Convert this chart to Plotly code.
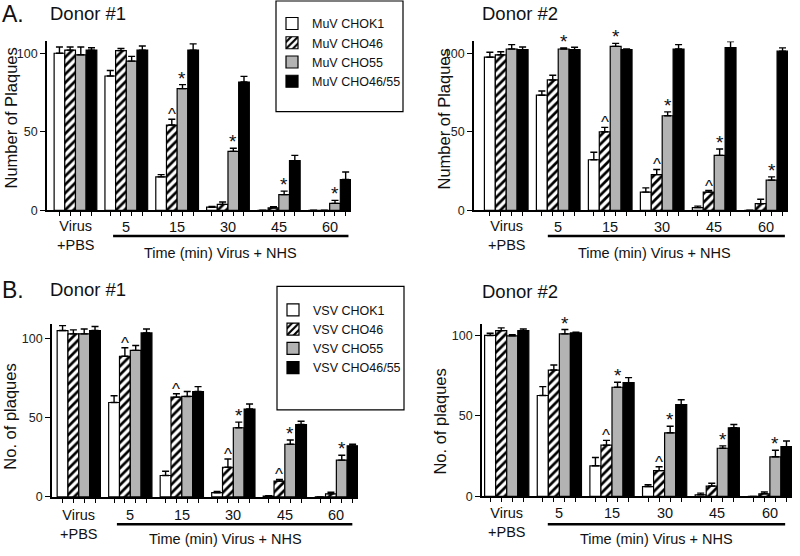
import plotly.graph_objects as go

# ---------------------------------------------------------------------------
# Data
# ---------------------------------------------------------------------------
GROUP_LABELS = ["Virus<br>+PBS", "5", "15", "30", "45", "60"]
CELL_LINES = ["CHOK1", "CHO46", "CHO55", "CHO46/55"]

# rows = CHOK1, CHO46, CHO55, CHO46/55 ; columns = PBS, 5, 15, 30, 45, 60 min
MUV_D1_MEAN = [
    [100, 85.5, 21.3, 2.0, 0, 0],
    [102, 101.7, 54.3, 3.8, 1.5, 0],
    [99, 95, 77.5, 37.5, 10, 4.4],
    [102, 102, 102, 81.7, 31.6, 19.6],
]
MUV_D1_SEM = [
    [4, 3.5, 1.4, 0.5, 0, 0],
    [2, 1.3, 3.7, 1.5, 0.8, 0],
    [5, 3, 2.5, 2, 2.2, 1.9],
    [1.5, 2.6, 4, 3.6, 3.4, 4.8],
]
MUV_D2_MEAN = [
    [97.5, 73.3, 32.2, 11.6, 1.7, 0],
    [99, 83, 50, 22.7, 11.6, 4.2],
    [102.7, 102.7, 104.4, 60.2, 35, 19.2],
    [102.3, 102.3, 102.3, 102.7, 103.6, 101.3],
]
MUV_D2_SEM = [
    [3.1, 2.7, 4.8, 2.7, 1.0, 0],
    [2, 3, 2.8, 3.3, 1.0, 2.8],
    [2.8, 0.7, 1.9, 2.5, 4, 2.1],
    [1.7, 1.5, 0.4, 2.8, 3.8, 2.1],
]
VSV_D1_MEAN = [
    [104.8, 59.5, 13.5, 2.7, 0.6, 0],
    [102.7, 88.6, 62.9, 18.7, 10, 2],
    [102.7, 92.3, 63.3, 43.6, 33.2, 23.2],
    [104.8, 103.3, 66.4, 55.4, 45.6, 32.2],
]
VSV_D1_SEM = [
    [3.1, 4.2, 2.7, 0.8, 0.2, 0],
    [2.5, 5.4, 2.1, 5.2, 1, 1],
    [3.1, 3.1, 3.1, 3.5, 2.7, 3.1],
    [2.5, 2.5, 3.1, 3.1, 2.1, 1],
]
VSV_D2_MEAN = [
    [100, 62.7, 19, 6.1, 1, 0],
    [103, 78.5, 31.8, 16, 6.4, 1.6],
    [99.8, 101, 67.8, 39.5, 29.9, 24.6],
    [103, 101.6, 70.7, 57, 42.6, 30.9],
]
VSV_D2_SEM = [
    [1.4, 5.5, 5.2, 1.1, 1, 0],
    [1.7, 3.1, 3, 2.4, 1.8, 1.1],
    [0.6, 2.7, 3.1, 4.1, 1.5, 4.1],
    [1, 0.4, 3.1, 3, 2.1, 3.5],
]

# significance marks: (group index, cell line index, symbol)
MUV_D1_SIG = [(2, 1, "^"), (2, 2, "*"), (3, 2, "*"), (4, 2, "*"), (5, 2, "*")]
MUV_D2_SIG = [(1, 2, "*"), (2, 1, "^"), (2, 2, "*"), (3, 1, "^"), (3, 2, "*"),
              (4, 1, "^"), (4, 2, "*"), (5, 2, "*")]
VSV_D1_SIG = [(1, 1, "^"), (2, 1, "^"), (3, 1, "^"), (3, 2, "*"), (4, 1, "^"),
              (4, 2, "*"), (5, 2, "*")]
VSV_D2_SIG = [(1, 2, "*"), (2, 1, "^"), (2, 2, "*"), (3, 1, "^"), (3, 2, "*"),
              (4, 2, "*"), (5, 2, "*")]

# ---------------------------------------------------------------------------
# Styling
# ---------------------------------------------------------------------------
FONT = "Liberation Sans, Arial, sans-serif"
W, H = 800, 556
BARGAP = 0.16
BAR_W = (1 - BARGAP) / 4

STYLES = [
    dict(color="white"),
    dict(color="white", pattern=dict(shape="/", fgcolor="black", bgcolor="white",
                                     size=6, solidity=0.45, fillmode="replace")),
    dict(color="#b3b3b3"),
    dict(color="black"),
]


def px_x(p):
    return p / W


def px_y(p):
    return 1 - p / H


# panel definitions: pixel domains measured on the reference
PANELS = [
    dict(virus="MuV", mean=MUV_D1_MEAN, sem=MUV_D1_SEM, sig=MUV_D1_SIG,
         xdom=(47, 351), xr=(-0.56, 5.42), ydom=(213, 42), ymax=107.5,
         title="Donor #1", title_x=48, title_y=14,
         ytitle="Number of Plaques", ytx=11, yty=120,
         lab_y=230, line_y=239, time_y=256, br=(0.74, 5.37), legend="legend"),
    dict(virus="MuV", mean=MUV_D2_MEAN, sem=MUV_D2_SEM, sig=MUV_D2_SIG,
         xdom=(474, 788), xr=(-0.62, 5.42), ydom=(213, 42), ymax=107.5,
         title="Donor #2", title_x=480, title_y=14,
         ytitle="Number of Plaques", ytx=444, yty=121,
         lab_y=230, line_y=239, time_y=256, br=(0.80, 5.36), legend=None),
    dict(virus="VSV", mean=VSV_D1_MEAN, sem=VSV_D1_SEM, sig=VSV_D1_SIG,
         xdom=(52, 358), xr=(-0.52, 5.42), ydom=(503.3, 328), ymax=109,
         title="Donor #1", title_x=48, title_y=293,
         ytitle="No. of plaques", ytx=10, yty=422,
         lab_y=522, line_y=531, time_y=546, br=(0.74, 5.31), legend="legend2"),
    dict(virus="VSV", mean=VSV_D2_MEAN, sem=VSV_D2_SEM, sig=VSV_D2_SIG,
         xdom=(482, 792), xr=(-0.47, 5.42), ydom=(502.7, 328), ymax=107.2,
         title="Donor #2", title_x=480, title_y=295,
         ytitle="No. of plaques", ytx=440, yty=427,
         lab_y=520, line_y=531, time_y=546, br=(0.78, 5.29), legend=None),
]

# legend frames (pixel boxes: x0, y0, x1, y1)
LEGEND_BOXES = [(276, 1, 403, 113), (277, 290, 404, 415)]

fig = go.Figure()
annotations = []
shapes = []
groups = list(range(len(GROUP_LABELS)))
bar_centers = [g + (k - 1.5) * BAR_W for g in groups for k in range(4)]


def text(x, y, s, size, xref="paper", yref="paper", xanchor="center",
         yanchor="middle", **kw):
    return dict(x=x, y=y, xref=xref, yref=yref, text=s, showarrow=False,
                xanchor=xanchor, yanchor=yanchor, font=dict(size=size), **kw)


for i, p in enumerate(PANELS):
    n = "" if i == 0 else str(i + 1)
    xa, ya = "x" + n, "y" + n
    for k, cell in enumerate(CELL_LINES):
        st = STYLES[k]
        fig.add_trace(go.Bar(
            x=groups, y=p["mean"][k], name=f'{p["virus"]} {cell}',
            xaxis=xa, yaxis=ya,
            marker=dict(line=dict(color="black", width=1.2), **st),
            error_y=dict(type="data", array=p["sem"][k], symmetric=False,
                         arrayminus=[0] * len(groups), color="black",
                         thickness=1.4, width=3.5),
            showlegend=p["legend"] is not None,
            legend=p["legend"] or "legend",
            legendgroup=f'{p["virus"]}{k}',
        ))

    fig.update_layout(**{
        "xaxis" + n: dict(domain=[px_x(p["xdom"][0]), px_x(p["xdom"][1])],
                          range=list(p["xr"]), anchor=ya, showline=True,
                          linecolor="black", linewidth=1.6, ticks="outside",
                          tickvals=bar_centers, ticklen=4, tickwidth=1.2,
                          tickcolor="black", showticklabels=False,
                          showgrid=False, zeroline=False, fixedrange=True),
        "yaxis" + n: dict(domain=[px_y(p["ydom"][0]), px_y(p["ydom"][1])],
                          range=[0, p["ymax"]], anchor=xa, showline=True,
                          linecolor="black", linewidth=1.6, ticks="outside",
                          tickvals=[0, 50, 100], ticklen=5, tickwidth=1.4,
                          tickcolor="black", showgrid=False, zeroline=False,
                          tickfont=dict(size=12.5, color="#222")),
    })

    # group labels under the x axis
    for g, lab in zip(groups, GROUP_LABELS):
        two = "<br>" in lab
        annotations.append(text(g, px_y(p["lab_y"] + 9 if two else p["lab_y"]),
                                lab, 14.5, xref=xa))
    annotations.append(text(2.85, px_y(p["time_y"]), "Time (min) Virus + NHS",
                            14.5, xref=xa))
    shapes.append(dict(type="line", xref=xa, yref="paper",
                       x0=p["br"][0], x1=p["br"][1],
                       y0=px_y(p["line_y"]), y1=px_y(p["line_y"]),
                       line=dict(color="black", width=2.5)))

    # y axis title and panel title
    annotations.append(text(px_x(p["ytx"]), px_y(p["yty"]), p["ytitle"], 16.5,
                            textangle=-90))
    annotations.append(text(px_x(p["title_x"]), px_y(p["title_y"]), p["title"],
                            18.5, xanchor="left"))

    # significance marks
    for g, k, sym in p["sig"]:
        top = p["mean"][k][g] + p["sem"][k][g]
        annotations.append(text(g + (k - 1.5) * BAR_W, top, sym,
                                19 if sym == "*" else 17, xref=xa, yref=ya,
                                yanchor="bottom",
                                yshift=-6 if sym == "*" else -7))

# panel letters
annotations.append(text(0, px_y(14), "A.", 23, xanchor="left"))
annotations.append(text(0, px_y(294), "B.", 23, xanchor="left"))

for x0, y0, x1, y1 in LEGEND_BOXES:
    shapes.append(dict(type="rect", xref="paper", yref="paper",
                       x0=px_x(x0), x1=px_x(x1), y0=px_y(y0), y1=px_y(y1),
                       line=dict(color="black", width=1.2), layer="below"))

legend_style = dict(font=dict(size=12.5), borderwidth=0,
                    bgcolor="rgba(0,0,0,0)", xanchor="left", yanchor="top",
                    traceorder="normal", tracegroupgap=3, itemclick=False)

fig.update_layout(
    width=W, height=H,
    margin=dict(l=0, r=0, t=0, b=0),
    barmode="group", bargap=BARGAP, bargroupgap=0,
    paper_bgcolor="white", plot_bgcolor="white",
    font=dict(family=FONT, color="#111"),
    legend=dict(x=px_x(272), y=px_y(9), **legend_style),
    legend2=dict(x=px_x(273), y=px_y(299), **legend_style),
    annotations=annotations,
    shapes=shapes,
)

fig.write_html("out.html", config={"displayModeBar": False},
               post_script="document.body.style.margin='0';")
